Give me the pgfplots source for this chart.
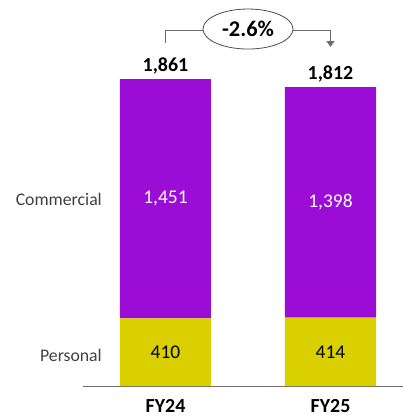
\documentclass[border=0pt]{standalone}
\usepackage{pgfplots}
\pgfplotsset{compat=1.18}
\usepackage{fontspec}
\setmainfont{Carlito}
\usetikzlibrary{arrows.meta,shapes.geometric}
\definecolor{cpurple}{RGB}{155,12,214}
\definecolor{cyellow}{RGB}{218,208,0}
\definecolor{lblgray}{RGB}{64,64,64}
\definecolor{arrgray}{RGB}{110,110,110}
\begin{document}
\begin{tikzpicture}
\begin{axis}[
 scale only axis, width=320bp, height=386bp,
 xmin=-0.5, xmax=1.4394, ymin=0, ymax=2340,
 ybar stacked, bar width=91bp,
 axis x line*=bottom, axis y line*=left,
 x axis line style={draw=arrgray, line width=0.8pt, -},
 y axis line style={draw=none},
 major tick length=0pt,
 xtick={0,1}, xticklabels={FY24,FY25},
 xticklabel style={font=\fontsize{20}{24}\selectfont\bfseries, inner sep=0pt, anchor=north, yshift=-13bp},
 ytick={188,1133}, yticklabels={Personal,Commercial},
 yticklabel style={font=\fontsize{17.8}{20}\selectfont, text=lblgray, inner sep=0pt, anchor=east, xshift=19bp},
 clip=false,
]
\addplot[fill=cyellow, draw=none] coordinates {(0,410) (1,414)};
\addplot[fill=cpurple, draw=none] coordinates {(0,1451) (1,1398)};
\coordinate (c1) at (axis cs:0,1135.5);
\coordinate (c2) at (axis cs:1,1113);
\coordinate (p1) at (axis cs:0,205);
\coordinate (p2) at (axis cs:1,207);
\coordinate (t1) at (axis cs:0,1861);
\coordinate (t2) at (axis cs:1,1812);
\coordinate (a0) at (axis cs:0,2079);
\coordinate (a1) at (axis cs:1,2158);
\coordinate (a2) at (axis cs:1,2055);
\coordinate (e) at (axis cs:0.5,2164);
\end{axis}
\node[font=\fontsize{19.5}{22}\selectfont, text=white] at (c1) {1,451};
\node[font=\fontsize{19.5}{22}\selectfont, text=white] at (c2) {1,398};
\node[font=\fontsize{19.5}{22}\selectfont, text=black] at (p1) {410};
\node[font=\fontsize{19.5}{22}\selectfont, text=black] at (p2) {414};
\node[font=\fontsize{20}{24}\selectfont\bfseries, anchor=base, yshift=8bp] at (t1) {1,861};
\node[font=\fontsize{20}{24}\selectfont\bfseries, anchor=base, yshift=8bp] at (t2) {1,812};
\draw[arrgray, line width=1pt, -{Triangle[length=6bp,width=8bp]}] (a0) |- (a1) -- (a2);
\node[draw=black!70, fill=white, line width=0.8pt, ellipse, minimum width=90bp, minimum height=40bp, inner sep=0pt, font=\fontsize{22.5}{26}\selectfont\bfseries] at (e) {-2.6\%};
\path (current axis.south west) ++(-83bp,-31bp) rectangle (current axis.north east);
\end{tikzpicture}
\end{document}
